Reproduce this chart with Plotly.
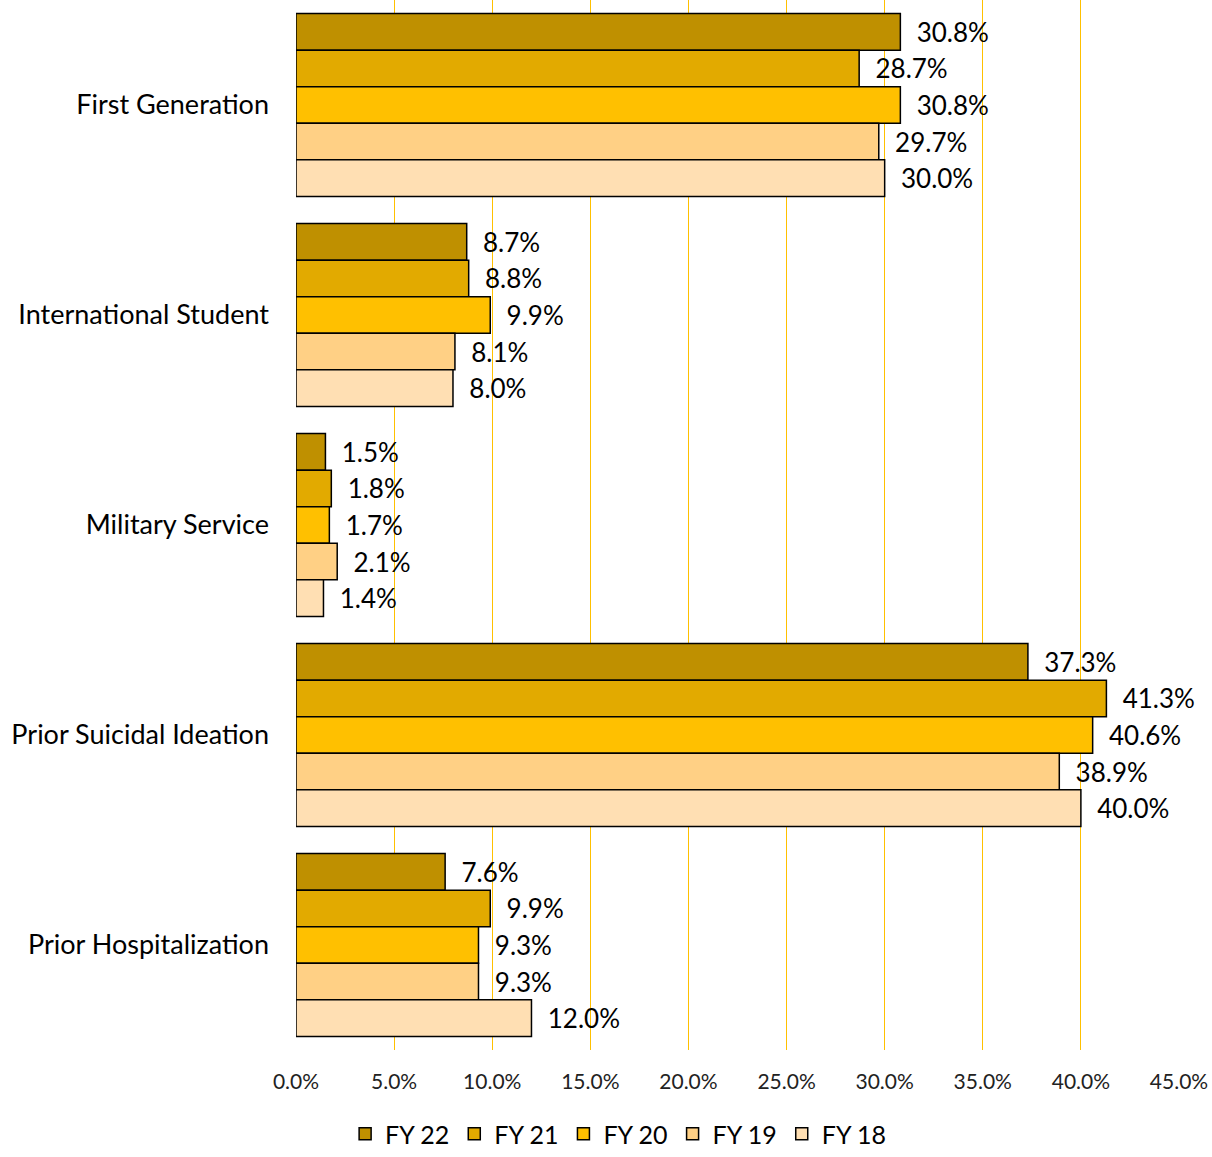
import plotly.graph_objects as go

categories = ["First Generation", "International Student", "Military Service",
              "Prior Suicidal Ideation", "Prior Hospitalization"]
series_names = ["FY 22", "FY 21", "FY 20", "FY 19", "FY 18"]
fy22 = [30.8, 8.7, 1.5, 37.3, 7.6]
fy21 = [28.7, 8.8, 1.8, 41.3, 9.9]
fy20 = [30.8, 9.9, 1.7, 40.6, 9.3]
fy19 = [29.7, 8.1, 2.1, 38.9, 9.3]
fy18 = [30.0, 8.0, 1.4, 40.0, 12.0]
colors = ["#BF9000", "#E2AA00", "#FFC000", "#FFD085", "#FFDFB3"]

FONT = "Lato, Calibri, Carlito, sans-serif"

fig = go.Figure()
for name, vals, col in zip(series_names, [fy22, fy21, fy20, fy19, fy18], colors):
    fig.add_trace(go.Bar(
        y=categories, x=vals, name=name, orientation="h",
        marker=dict(color=col, line=dict(color="#000000", width=1.5)),
        texttemplate="\u00a0\u00a0%{x:.1f}%", textposition="outside",
        textfont=dict(family=FONT, size=26, color="#000000"),
        cliponaxis=False,
    ))

fig.update_layout(
    width=1212, height=1157,
    margin=dict(l=296, r=33, t=0, b=107),
    paper_bgcolor="white", plot_bgcolor="white",
    barmode="group", bargap=0.129, bargroupgap=0,
    font=dict(family=FONT, color="#000000"),
    xaxis=dict(range=[0, 45], dtick=5, tickformat=".1f", ticksuffix="%",
               showgrid=True, gridcolor="#FFC000", gridwidth=1,
               zeroline=False, showline=False,
               tickfont=dict(size=21, color="#222222"),
               ticklabelstandoff=17),
    yaxis=dict(autorange="reversed", showgrid=False, showline=False,
               tickfont=dict(size=27, color="#000000"),
               ticklabelstandoff=26),
    legend=dict(orientation="h", xref="container", x=0.51, xanchor="center",
                yref="container", y=-0.003, yanchor="bottom",
                font=dict(size=25, color="#000000"),
                traceorder="normal", itemwidth=30),
)

fig.write_html("out.html")
